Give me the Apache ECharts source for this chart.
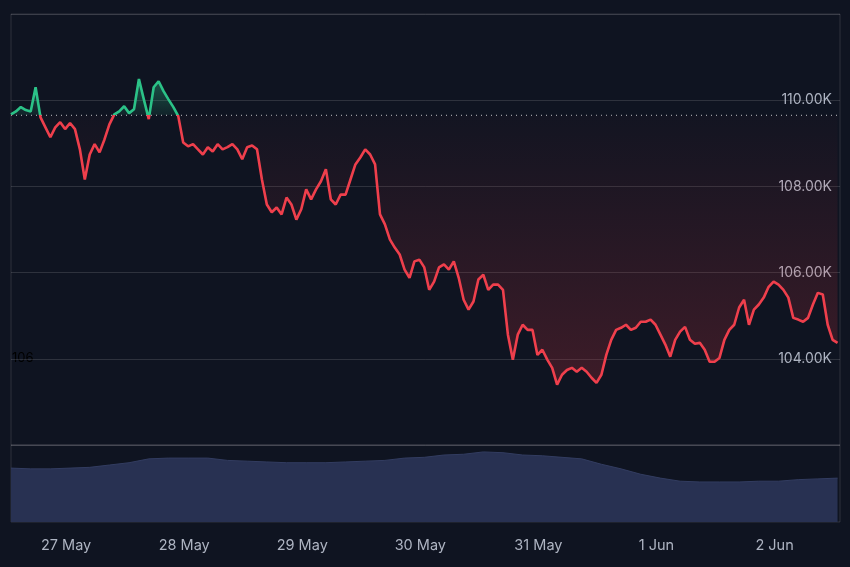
<!DOCTYPE html>
<html>
<head>
<meta charset="utf-8">
<script src="https://cdn.jsdelivr.net/npm/echarts@6/dist/echarts.min.js"></script>
<style>
  html, body { margin: 0; padding: 0; background: #0f1421; }
  #chart { width: 850px; height: 567px; }
</style>
</head>
<body>
<div id="chart"></div>
<script>
// hourly prices, 26 May 12:48 -> 2 Jun 12:48
const startTime = new Date(2025, 4, 26, 12, 48).getTime()
const hour = 3600 * 1000
const baseline = 109650
const prices = [
  109.67, 109.74, 109.84, 109.77, 109.74, 110.30, 109.60, 109.37, 109.14, 109.37,
  109.49, 109.33, 109.47, 109.33, 108.86, 108.16, 108.74, 108.98, 108.79, 109.09,
  109.44, 109.67, 109.74, 109.86, 109.70, 109.79, 110.49, 110.02, 109.56, 110.30,
  110.44, 110.21, 110.02, 109.84, 109.63, 109.02, 108.93, 108.98, 108.86, 108.74,
  108.91, 108.81, 108.98, 108.86, 108.91, 108.98, 108.86, 108.63, 108.91, 108.95,
  108.86, 108.16, 107.58, 107.40, 107.51, 107.35, 107.74, 107.58, 107.23, 107.47,
  107.93, 107.70, 107.93, 108.12, 108.40, 107.70, 107.58, 107.81, 107.81, 108.16,
  108.51, 108.67, 108.86, 108.74, 108.51, 107.35, 107.12, 106.77, 106.58, 106.42,
  106.07, 105.88, 106.26, 106.30, 106.12, 105.60, 105.79, 106.12, 106.19, 106.07,
  106.26, 105.88, 105.37, 105.14, 105.33, 105.84, 105.95, 105.60, 105.72, 105.72,
  105.60, 104.56, 103.98, 104.56, 104.79, 104.67, 104.67, 104.09, 104.21, 103.98,
  103.79, 103.40, 103.63, 103.74, 103.79, 103.70, 103.79, 103.70, 103.56, 103.44,
  103.63, 104.09, 104.44, 104.67, 104.72, 104.79, 104.67, 104.72, 104.86, 104.86,
  104.91, 104.79, 104.56, 104.33, 104.05, 104.44, 104.63, 104.74, 104.44, 104.35,
  104.37, 104.21, 103.93, 103.93, 104.02, 104.44, 104.67, 104.79, 105.19, 105.37,
  104.79, 105.14, 105.26, 105.42, 105.67, 105.79, 105.72, 105.60, 105.42, 104.95,
  104.91, 104.86, 104.95, 105.26, 105.53, 105.49, 104.79, 104.44, 104.37
]
// relative volume, every 4 hours
const volumes = [
  70, 69, 69, 70, 71, 74, 77, 82, 83, 83, 83, 80, 79, 78, 77, 77, 77, 78, 79, 80,
  83, 84, 87, 88, 91, 90, 87, 86, 84, 82, 75, 69, 62, 57, 53, 52, 52, 52, 53, 53,
  55, 56, 57
]
const monthNames = ['Jan', 'Feb', 'Mar', 'Apr', 'May', 'Jun', 'Jul', 'Aug', 'Sep', 'Oct', 'Nov', 'Dec']
const priceTicks = [104000, 106000, 108000, 110000]

const times = prices.map((p, i) => startTime + i * hour)
const priceData = prices.map((p, i) => [times[i], Math.round(p * 1000)])
// area between the line and the baseline: baseline + (price - baseline), stacked
const baseData = times.map(t => [t, baseline])
const diffData = prices.map((p, i) => [times[i], Math.round(p * 1000) - baseline])
const volData = volumes.map((v, i) => [startTime + i * 4 * hour, v])
const tMin = startTime
const tMax = startTime + (prices.length - 1) * hour + 30 * 60 * 1000

const gridLine = 'rgba(255,255,255,0.13)'
const txt = '#aeb4c2'
const green = '#2bc287'
const red = '#ef3f4c'

let mychart = echarts.init(document.getElementById('chart'))
let option = {
  backgroundColor: '#0f1421',
  animation: false,
  textStyle: { fontFamily: 'Inter, sans-serif' },
  grid: [
    { left: 11, right: 10, top: 14, height: 431, show: true, borderColor: gridLine, borderWidth: 1 },
    { left: 11, right: 10, top: 445, height: 77, show: true, borderColor: gridLine, borderWidth: 1 }
  ],
  xAxis: [
    { type: 'time', gridIndex: 0, min: tMin, max: tMax, axisLine: { show: false }, axisTick: { show: false },
      axisLabel: { show: false }, splitLine: { show: false } },
    { type: 'time', gridIndex: 1, min: tMin, max: tMax, axisLine: { show: false }, axisTick: { show: false },
      splitLine: { show: false }, minInterval: 24 * hour, maxInterval: 24 * hour,
      axisLabel: {
        color: txt, fontSize: 14.5, margin: 16, hideOverlap: false,
        formatter: v => { const d = new Date(v); return d.getDate() + ' ' + monthNames[d.getMonth()] }
      } }
  ],
  yAxis: [
    { type: 'value', gridIndex: 0, position: 'right', min: 102000, max: 112000, interval: 2000,
      axisLine: { show: false }, axisTick: { show: false },
      splitLine: { lineStyle: { color: gridLine } },
      axisLabel: {
        inside: true, color: txt, fontSize: 14, margin: 8,
        showMinLabel: false, showMaxLabel: false,
        formatter: v => priceTicks.includes(v) ? (v / 1000).toFixed(2) + 'K' : ''
      } },
    { type: 'value', gridIndex: 1, min: 0, max: 100, show: false }
  ],
  series: [
    {
      id: 'price', type: 'line', xAxisIndex: 0, yAxisIndex: 0, data: priceData, showSymbol: false,
      lineStyle: { width: 2.6, color: red }, z: 5
    },
    {
      id: 'base', type: 'line', xAxisIndex: 0, yAxisIndex: 0, data: baseData, showSymbol: false,
      stack: 'fill', stackStrategy: 'all', z: 4,
      lineStyle: { color: 'rgba(255,255,255,0.75)', type: [1, 4], width: 1 }
    },
    {
      id: 'fill', type: 'line', xAxisIndex: 0, yAxisIndex: 0, data: diffData, showSymbol: false,
      stack: 'fill', stackStrategy: 'all', lineStyle: { opacity: 0 }, z: 2
    },
    {
      type: 'line', xAxisIndex: 1, yAxisIndex: 1, data: volData, showSymbol: false,
      lineStyle: { width: 1, color: '#323c60' }, areaStyle: { color: '#283152', opacity: 1 }
    }
  ],
  graphic: [
    { type: 'text', left: 12, top: 352, style: { text: '106', fill: '#000000', font: '13px Inter' } }
  ]
}
mychart.setOption(option)

// split colours at the baseline's pixel row
const yBase = mychart.convertToPixel({ yAxisIndex: 0 }, baseline)
const yHigh = mychart.convertToPixel({ yAxisIndex: 0 }, 110600)
const yLow = mychart.convertToPixel({ yAxisIndex: 0 }, 103300)
const f = (yBase - yHigh) / (yLow - yHigh)
mychart.setOption({
  series: [
    { id: 'price', lineStyle: { color: new echarts.graphic.LinearGradient(0, yHigh, 0, yLow, [
      { offset: 0, color: green }, { offset: f, color: green },
      { offset: f, color: red }, { offset: 1, color: red }], true) } },
    { id: 'fill', areaStyle: { color: new echarts.graphic.LinearGradient(0, yHigh, 0, yLow, [
      { offset: 0, color: 'rgba(43,194,135,0.6)' }, { offset: f, color: 'rgba(43,194,135,0.12)' },
      { offset: f, color: 'rgba(200,50,60,0.03)' }, { offset: 1, color: 'rgba(200,50,60,0.36)' }], true) } }
  ]
})
</script>
</body>
</html>
